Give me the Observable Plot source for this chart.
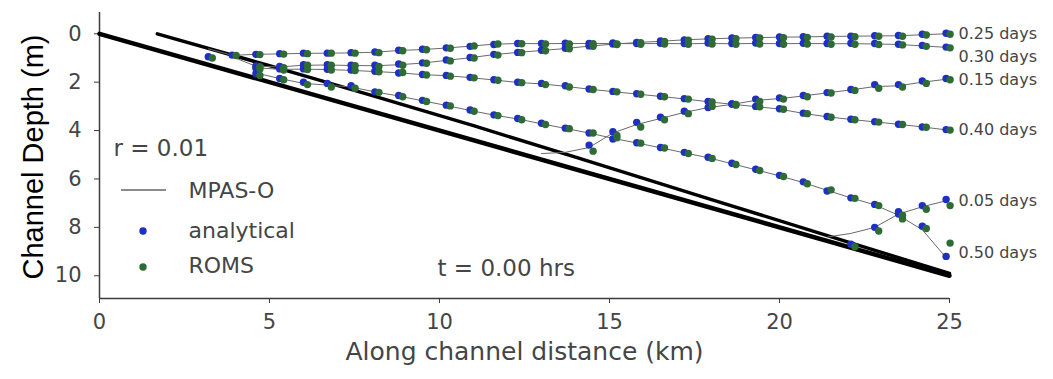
<!DOCTYPE html>
<html>
<head>
<meta charset="utf-8">
<script src="https://cdn.jsdelivr.net/npm/d3@7"></script>
<script src="https://cdn.jsdelivr.net/npm/@observablehq/plot@0.6"></script>
<style>
  body { margin: 0; background: #fff; }
  #chart svg { display: block; }
</style>
</head>
<body>
<div id="chart"></div>
<script>
// ---------- data ----------
// along-channel sample positions (km); each series below is right-aligned to this grid
const xGrid = [0.4, 1.1, 1.8, 2.5, 3.2, 3.9, 4.6, 5.3, 6.0, 6.7, 7.4, 8.1, 8.8, 9.5, 10.2, 10.9, 11.6, 12.3,
               13.0, 13.7, 14.4, 15.1, 15.8, 16.5, 17.2, 17.9, 18.6, 19.3, 20.0, 20.7, 21.4, 22.1, 22.8, 23.5, 24.2, 24.9];

const times = ["0.05 days", "0.15 days", "0.25 days", "0.30 days", "0.40 days", "0.50 days"];

// bed and the thin MPAS-O film over the dry beach
const bedX = [0, 25];
const bedDepth = [0, 10];
const filmX = [1.7, 5, 8, 11, 14, 18, 22, 25];
const filmDepth = [0, 1.32, 2.55, 3.8, 5.1, 6.85, 8.6, 9.9];

// water surface (depth, m) per time
const analytical005 = [8.7, 8.0, 7.35, 7.1, 6.85];
const roms005       = [8.8, 8.15, 7.65, 7.25, 7.1];
const mpas005       = [8.4, 8.25, 8.0, 7.45, 7.15, 6.9];

const analytical015 = [4.6, 4.05, 3.66, 3.45, 3.2, 3.05, 2.9, 2.7, 2.65, 2.55, 2.43, 2.3, 2.1, 2.1, 1.95, 1.85];
const roms015       = [4.85, 4.2, 3.85, 3.55, 3.3, 3.0, 2.95, 2.8, 2.7, 2.6, 2.45, 2.34, 2.25, 2.2, 2.05, 1.9];
const mpas015       = [4.95, 4.9, 4.7, 4.1, 3.75, 3.5, 3.25, 3.05, 2.92, 2.75, 2.68, 2.57, 2.44, 2.32, 2.18, 2.15, 2.0, 1.88];

const analytical025 = [1.33, 1.35, 1.28, 1.28, 1.3, 1.3, 1.25, 1.2, 1.08, 0.98, 0.85, 0.77, 0.68, 0.6, 0.5, 0.42, 0.36, 0.3, 0.25, 0.2, 0.17, 0.15, 0.13, 0.12, 0.1, 0.1, 0.08, 0.07, 0.02, -0.02];
const roms025       = [1.36, 1.4, 1.3, 1.3, 1.32, 1.35, 1.3, 1.22, 1.12, 1.0, 0.88, 0.78, 0.7, 0.62, 0.52, 0.44, 0.37, 0.32, 0.26, 0.22, 0.2, 0.17, 0.16, 0.15, 0.13, 0.12, 0.1, 0.1, 0.05, 0.02];
const mpas025       = [0.95, 1.34, 1.37, 1.3, 1.29, 1.31, 1.32, 1.28, 1.21, 1.1, 0.99, 0.86, 0.77, 0.69, 0.61, 0.51, 0.43, 0.36, 0.31, 0.25, 0.21, 0.18, 0.16, 0.14, 0.13, 0.11, 0.1, 0.09, 0.08, 0.04, 0.0];

const analytical030 = [0.95, 0.88, 0.85, 0.82, 0.8, 0.8, 0.78, 0.75, 0.68, 0.64, 0.58, 0.52, 0.44, 0.4, 0.4, 0.39, 0.4, 0.38, 0.4, 0.39, 0.4, 0.38, 0.4, 0.38, 0.4, 0.39, 0.4, 0.39, 0.4, 0.43, 0.48, 0.55];
const roms030       = [1.0, 0.9, 0.86, 0.84, 0.82, 0.8, 0.8, 0.78, 0.7, 0.66, 0.6, 0.5, 0.42, 0.41, 0.42, 0.42, 0.41, 0.42, 0.43, 0.42, 0.43, 0.42, 0.43, 0.42, 0.43, 0.42, 0.43, 0.43, 0.44, 0.46, 0.52, 0.58];
const mpas030       = [0.62, 0.89, 0.85, 0.83, 0.81, 0.8, 0.79, 0.76, 0.69, 0.65, 0.59, 0.51, 0.43, 0.4, 0.41, 0.4, 0.4, 0.4, 0.41, 0.4, 0.41, 0.4, 0.41, 0.4, 0.41, 0.4, 0.41, 0.41, 0.42, 0.44, 0.5, 0.56];

const analytical040 = [1.42, 1.45, 1.45, 1.47, 1.5, 1.55, 1.62, 1.68, 1.72, 1.8, 1.9, 2.0, 2.05, 2.15, 2.28, 2.38, 2.48, 2.58, 2.68, 2.8, 2.9, 3.0, 3.1, 3.28, 3.42, 3.53, 3.63, 3.74, 3.85, 3.96];
const roms040       = [1.45, 1.5, 1.48, 1.5, 1.52, 1.57, 1.6, 1.7, 1.75, 1.82, 1.92, 2.02, 2.1, 2.2, 2.3, 2.4, 2.5, 2.6, 2.7, 2.82, 2.92, 3.02, 3.12, 3.3, 3.45, 3.55, 3.65, 3.75, 3.86, 3.98];
const mpas040       = [1.4, 1.47, 1.46, 1.48, 1.51, 1.56, 1.61, 1.69, 1.73, 1.81, 1.91, 2.01, 2.07, 2.17, 2.29, 2.39, 2.49, 2.59, 2.69, 2.81, 2.91, 3.01, 3.11, 3.29, 3.43, 3.54, 3.64, 3.74, 3.85, 3.97];

const analytical050 = [1.65, 1.85, 2.0, 2.05, 2.15, 2.4, 2.55, 2.75, 2.95, 3.15, 3.35, 3.5, 3.7, 3.9, 4.1, 4.35, 4.5, 4.7, 4.9, 5.1, 5.35, 5.6, 5.85, 6.12, 6.5, 6.78, 7.05, 7.45, 7.95, 9.2];
const roms050       = [1.72, 1.9, 2.1, 2.2, 2.25, 2.42, 2.6, 2.8, 2.98, 3.2, 3.38, 3.55, 3.75, 3.92, 4.1, 4.3, 4.52, 4.72, 4.95, 5.15, 5.4, 5.65, 5.9, 6.2, 6.45, 6.8, 7.1, 7.5, 8.05, 8.65];
const mpas050       = [1.62, 1.85, 2.05, 2.12, 2.2, 2.4, 2.57, 2.77, 2.96, 3.17, 3.36, 3.52, 3.72, 3.91, 4.1, 4.32, 4.51, 4.71, 4.92, 5.12, 5.37, 5.62, 5.87, 6.15, 6.47, 6.78, 7.07, 7.5, 8.1, 9.25];

const xTicks = [0, 5, 10, 15, 20, 25];
const yTicks = [0, 2, 4, 6, 8, 10];
const legendLabels = ["MPAS-O", "analytical", "ROMS"];
const notes = ["r = 0.01", "t = 0.00 hrs"];
const xTitle = "Along channel distance (km)";
const yTitle = "Channel Depth (m)";

// ---------- tables ----------
const analyticalSets = [analytical005, analytical015, analytical025, analytical030, analytical040, analytical050];
const romsSets = [roms005, roms015, roms025, roms030, roms040, roms050];
const mpasSets = [mpas005, mpas015, mpas025, mpas030, mpas040, mpas050];

function toRows(sets) {
  const out = [];
  sets.forEach((arr, i) => {
    const off = xGrid.length - arr.length;
    arr.forEach((v, j) => { if (v != null) out.push({time: times[i], x: xGrid[off + j], depth: v}); });
  });
  return out;
}
const anaRows = toRows(analyticalSets);
const romsRows = toRows(romsSets);
const mpasRows = toRows(mpasSets);
const bed = bedX.map((x, i) => ({x, depth: bedDepth[i]}));
const film = filmX.map((x, i) => ({x, depth: filmDepth[i]}));
const endLabels = times.map((t, i) => ({time: t, x: bedX[1], depth: mpasSets[i][mpasSets[i].length - 1]}));
const labelShift = {"0.05 days": 0, "0.15 days": 1, "0.25 days": 0, "0.30 days": 10, "0.40 days": 0, "0.50 days": -5};

// ---------- styles ----------
const BLUE = "#1f2fc4";
const GREEN = "#2e6b35";
const TXT = "#454545";
const font = "DejaVu Sans";

const legendMark = (index, scales, values, dims) => {
  const g = d3.create("svg:g");
  const L = dims.marginLeft, T = dims.marginTop;
  g.append("line").attr("x1", L + 22).attr("x2", L + 67).attr("y1", T + 178).attr("y2", T + 178)
    .attr("stroke", "#666").attr("stroke-width", 1.3);
  g.append("circle").attr("cx", L + 44).attr("cy", T + 219).attr("r", 3.7).attr("fill", BLUE);
  g.append("circle").attr("cx", L + 44).attr("cy", T + 255).attr("r", 3.7).attr("fill", GREEN);
  return g.node();
};

const yTitleMark = (index, scales, values, dims) => {
  const cy = (dims.marginTop + dims.height - dims.marginBottom) / 2;
  return d3.create("svg:text")
    .attr("transform", `translate(${dims.marginLeft - 66},${cy + 2}) rotate(-90)`)
    .attr("text-anchor", "middle")
    .attr("dominant-baseline", "central")
    .attr("font-family", "Liberation Sans")
    .attr("font-size", 29)
    .attr("fill", "#000")
    .text(yTitle)
    .node();
};

const chart = Plot.plot({
  width: 1053,
  height: 379,
  marginLeft: 99,
  marginRight: 104,
  marginTop: 12,
  marginBottom: 81,
  style: {fontFamily: font, background: "#fff", overflow: "visible"},
  x: {domain: [0, 25], axis: null},
  y: {domain: [-0.88, 10.94], reverse: true, axis: null},
  marks: [
    Plot.ruleX([0], {stroke: "#3c3c3c", strokeWidth: 1.5}),
    Plot.ruleY([10.94], {stroke: "#3c3c3c", strokeWidth: 1.5}),
    Plot.axisX({ticks: xTicks, tickFormat: d3.format("d"), tickSize: 5, tickPadding: 11, fontSize: 21, stroke: "#3c3c3c", fill: TXT, label: null}),
    Plot.axisY({ticks: yTicks, tickFormat: d3.format("d"), tickSize: 5, tickPadding: 13, fontSize: 21, stroke: "#3c3c3c", fill: TXT, label: null}),
    Plot.line(bed, {x: "x", y: "depth", stroke: "black", strokeWidth: 4.5}),
    Plot.line(film, {x: "x", y: "depth", stroke: "black", strokeWidth: 3.4}),
    Plot.line(mpasRows, {x: "x", y: "depth", z: "time", stroke: "#6a6a6a", strokeWidth: 1}),
    Plot.dot(anaRows, {x: "x", y: "depth", r: 3.7, fill: BLUE}),
    Plot.dot(romsRows, {x: "x", y: "depth", r: 3.7, fill: GREEN, dx: 4}),
    Plot.text(endLabels, {x: "x", y: "depth", text: "time", dx: 9, textAnchor: "start", fontSize: 16, fill: TXT}),
    Plot.text([notes[0]], {frameAnchor: "top-left", dx: 14, dy: 136, textAnchor: "start", lineAnchor: "middle", fontSize: 23, fill: TXT}),
    Plot.text([notes[1]], {frameAnchor: "top-left", dx: 338, dy: 256, textAnchor: "start", lineAnchor: "middle", fontSize: 23, fill: TXT}),
    Plot.text([legendLabels[0]], {frameAnchor: "top-left", dx: 89, dy: 178, textAnchor: "start", lineAnchor: "middle", fontSize: 22, fill: TXT}),
    Plot.text([legendLabels[1]], {frameAnchor: "top-left", dx: 89, dy: 218, textAnchor: "start", lineAnchor: "middle", fontSize: 22, fill: TXT}),
    Plot.text([legendLabels[2]], {frameAnchor: "top-left", dx: 89, dy: 253, textAnchor: "start", lineAnchor: "middle", fontSize: 22, fill: TXT}),
    legendMark,
    Plot.text([xTitle], {frameAnchor: "bottom", dy: 61, fontSize: 25, fill: TXT}),
    yTitleMark
  ]
});

// shift a few end labels apart (as in the original figure)
d3.select(chart).selectAll("text").each(function () {
  const t = this.textContent;
  if (t in labelShift && labelShift[t]) {
    this.setAttribute("dy", String(labelShift[t]));
  }
});

document.getElementById("chart").appendChild(chart);
</script>
</body>
</html>
